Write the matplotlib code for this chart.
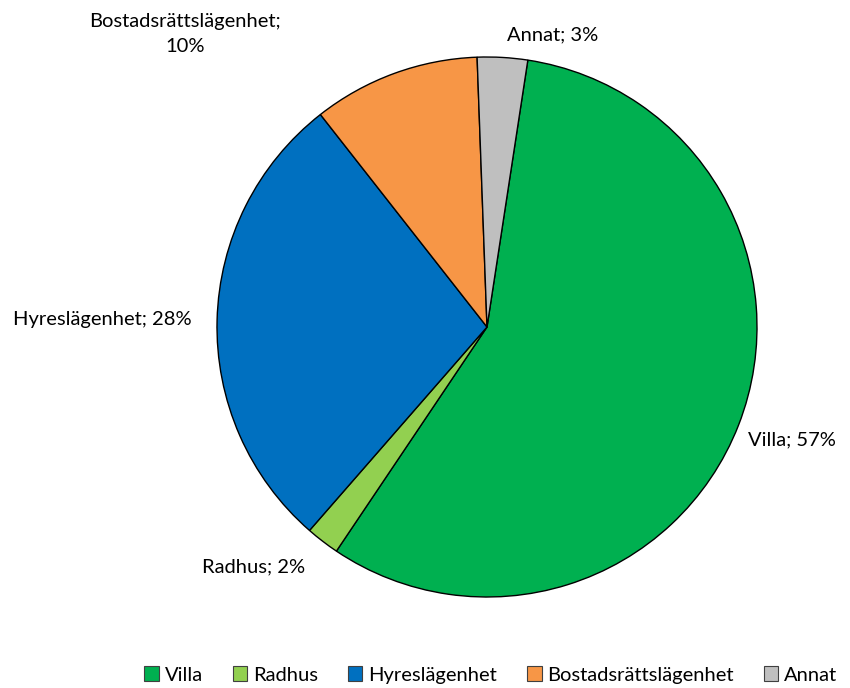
import matplotlib.pyplot as plt
from matplotlib.patches import Patch

# data
categories = ["Villa", "Radhus", "Hyreslägenhet", "Bostadsrättslägenhet", "Annat"]
shares = [57, 2, 28, 10, 3]
label_texts = ["Villa; 57%", "Radhus; 2%", "Hyreslägenhet; 28%",
               "Bostadsrättslägenhet;\n10%", "Annat; 3%"]
colors = ["#00B050", "#92D050", "#0070C0", "#F79646", "#BFBFBF"]

# label anchor positions in pixels (x, y from top) and alignment
label_pos = [(748, 440), (305, 567), (192, 320), (185, 34), (553, 35)]
label_ha = ["left", "right", "right", "center", "center"]

W, H = 850, 688
plt.rcParams["font.family"] = ["Lato", "DejaVu Sans"]

fig = plt.figure(figsize=(W / 100, H / 100), dpi=100)
ax = fig.add_axes([0, 0, 1, 1])

cx, cy, r = 487, H - 327, 270
ax.pie(shares, colors=colors, startangle=81.3, counterclock=False,
       center=(cx, cy), radius=r, frame=True,
       wedgeprops=dict(edgecolor="black", linewidth=1.0))
ax.set_xlim(0, W)
ax.set_ylim(0, H)
ax.set_aspect("equal")
ax.axis("off")

for txt, (x, y), ha in zip(label_texts, label_pos, label_ha):
    ax.text(x, H - y, txt, ha=ha, va="center", fontsize=14.5,
            color="black", linespacing=1.55)

handles = [Patch(facecolor=c, edgecolor="#404040", linewidth=0.8, label=n)
           for c, n in zip(colors, categories)]
fig.legend(handles=handles, loc="center", bbox_to_anchor=(491 / W, 1 - 675 / H),
           ncol=5, frameon=False, fontsize=14.5, handlelength=0.7,
           handleheight=0.7, handletextpad=0.3, columnspacing=1.5)

fig.savefig("out.png", dpi=100)
